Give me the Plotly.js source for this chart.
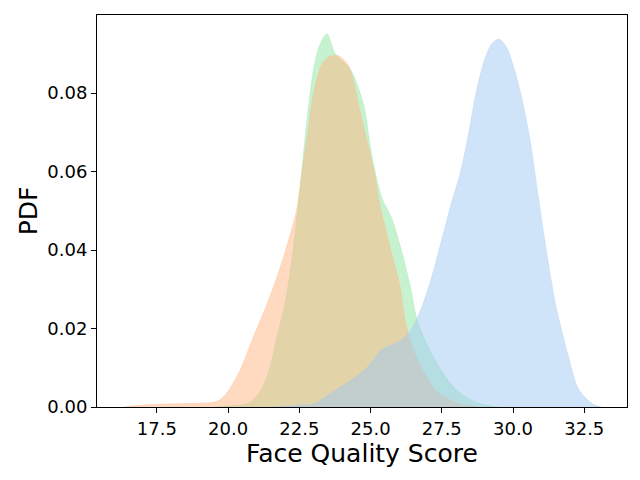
<!DOCTYPE html>
<html>
<head>
<meta charset="utf-8">
<script src="https://cdn.plot.ly/plotly-3.0.1.min.js"></script>
<style>html,body{margin:0;padding:0;background:#fff;}#chart{width:640px;height:480px;}</style>
</head>
<body>
<div id="chart"></div>
<script>
// Green series (drawn first)
const greenX = [19.5, 20.0, 20.5, 20.77, 21.12, 21.44, 21.7, 22.0, 22.25, 22.53, 22.77, 23.0, 23.2, 23.47, 23.76, 24.3, 24.76, 25.0, 25.25, 25.43, 25.73, 26.1, 26.4, 26.65, 27.19, 27.6, 28.05, 28.78, 29.5];
const greenY = [0.0, 0.0003, 0.0006, 0.0012, 0.0038, 0.0094, 0.0175, 0.0265, 0.038, 0.0562, 0.0732, 0.086, 0.092, 0.0951, 0.090, 0.086, 0.077, 0.066, 0.0571, 0.0527, 0.0483, 0.0395, 0.0306, 0.0218, 0.013, 0.008, 0.0041, 0.001, 0.0];
// Orange series
const orangeX = [16.3, 17.0, 18.0, 19.0, 19.6, 19.95, 20.42, 20.89, 21.38, 21.8, 22.1, 22.4, 22.6, 22.8, 23.0, 23.3, 23.55, 23.88, 24.15, 24.29, 24.7, 25.11, 25.34, 25.73, 26.04, 26.22, 26.59, 27.31, 28.05, 28.8];
const orangeY = [0.0, 0.0005, 0.0008, 0.001, 0.0014, 0.0035, 0.0094, 0.0179, 0.0265, 0.035, 0.042, 0.050, 0.060, 0.070, 0.080, 0.0875, 0.0893, 0.0895, 0.0878, 0.086, 0.0732, 0.0605, 0.0511, 0.0395, 0.0306, 0.0218, 0.013, 0.0041, 0.001, 0.0];
// Blue series (drawn last)
const blueX = [21.5, 22.0, 22.5, 23.03, 23.5, 23.97, 24.5, 24.91, 25.38, 26.08, 26.43, 26.77, 27.1, 27.4, 27.8, 28.16, 28.45, 28.7, 29.0, 29.25, 29.5, 29.75, 30.0, 30.3, 30.6, 30.9, 31.2, 31.5, 31.94, 32.3, 32.79, 33.1];
const blueY = [0.0, 0.0002, 0.0005, 0.0009, 0.003, 0.0052, 0.0078, 0.0103, 0.0145, 0.0171, 0.0198, 0.025, 0.032, 0.040, 0.051, 0.060, 0.070, 0.080, 0.0885, 0.0925, 0.0938, 0.092, 0.0872, 0.079, 0.068, 0.053, 0.0385, 0.026, 0.013, 0.0045, 0.0008, 0.0];

const xTickVals = [17.5, 20.0, 22.5, 25.0, 27.5, 30.0, 32.5];
const yTickVals = [0.00, 0.02, 0.04, 0.06, 0.08];

function area(x, y, rgb) {
  return {
    x: x, y: y, type: 'scatter', mode: 'lines', fill: 'tozeroy',
    line: {shape: 'spline', smoothing: 0.8, width: 0.6, color: 'rgba(' + rgb + ',0.5)'},
    fillcolor: 'rgba(' + rgb + ',0.5)',
    hoverinfo: 'skip', showlegend: false
  };
}

const data = [
  area(greenX, greenY, '141,229,161'),
  area(orangeX, orangeY, '255,180,130'),
  area(blueX, blueY, '161,201,244')
];

const fontFam = 'DejaVu Sans, sans-serif';
const layout = {
  width: 640, height: 480,
  margin: {l: 97, r: 13, t: 15, b: 73, pad: 0},
  paper_bgcolor: '#ffffff', plot_bgcolor: '#ffffff',
  font: {family: fontFam, color: '#000000', size: 18},
  xaxis: {
    range: [15.40, 34.0],
    tickvals: xTickVals, ticktext: xTickVals.map(v => v.toFixed(1)),
    ticks: 'outside', ticklen: 5, tickwidth: 1, tickcolor: '#000',
    showline: true, mirror: true, linecolor: '#000', linewidth: 1,
    showgrid: false, zeroline: false,
    tickfont: {family: fontFam, size: 18, color: '#000'},
    title: {text: 'Face Quality Score', font: {family: fontFam, size: 25, color: '#000'}, standoff: 4}
  },
  yaxis: {
    range: [0, 0.0999],
    tickvals: yTickVals, ticktext: yTickVals.map(v => v.toFixed(2)),
    ticks: 'outside', ticklen: 5, tickwidth: 1, tickcolor: '#000',
    showline: true, mirror: true, linecolor: '#000', linewidth: 1,
    showgrid: false, zeroline: false,
    tickfont: {family: fontFam, size: 18, color: '#000'},
    title: {text: 'PDF', font: {family: fontFam, size: 25, color: '#000'}, standoff: 2}
  }
};

Plotly.newPlot('chart', data, layout, {displayModeBar: false, staticPlot: true});
</script>
</body>
</html>
